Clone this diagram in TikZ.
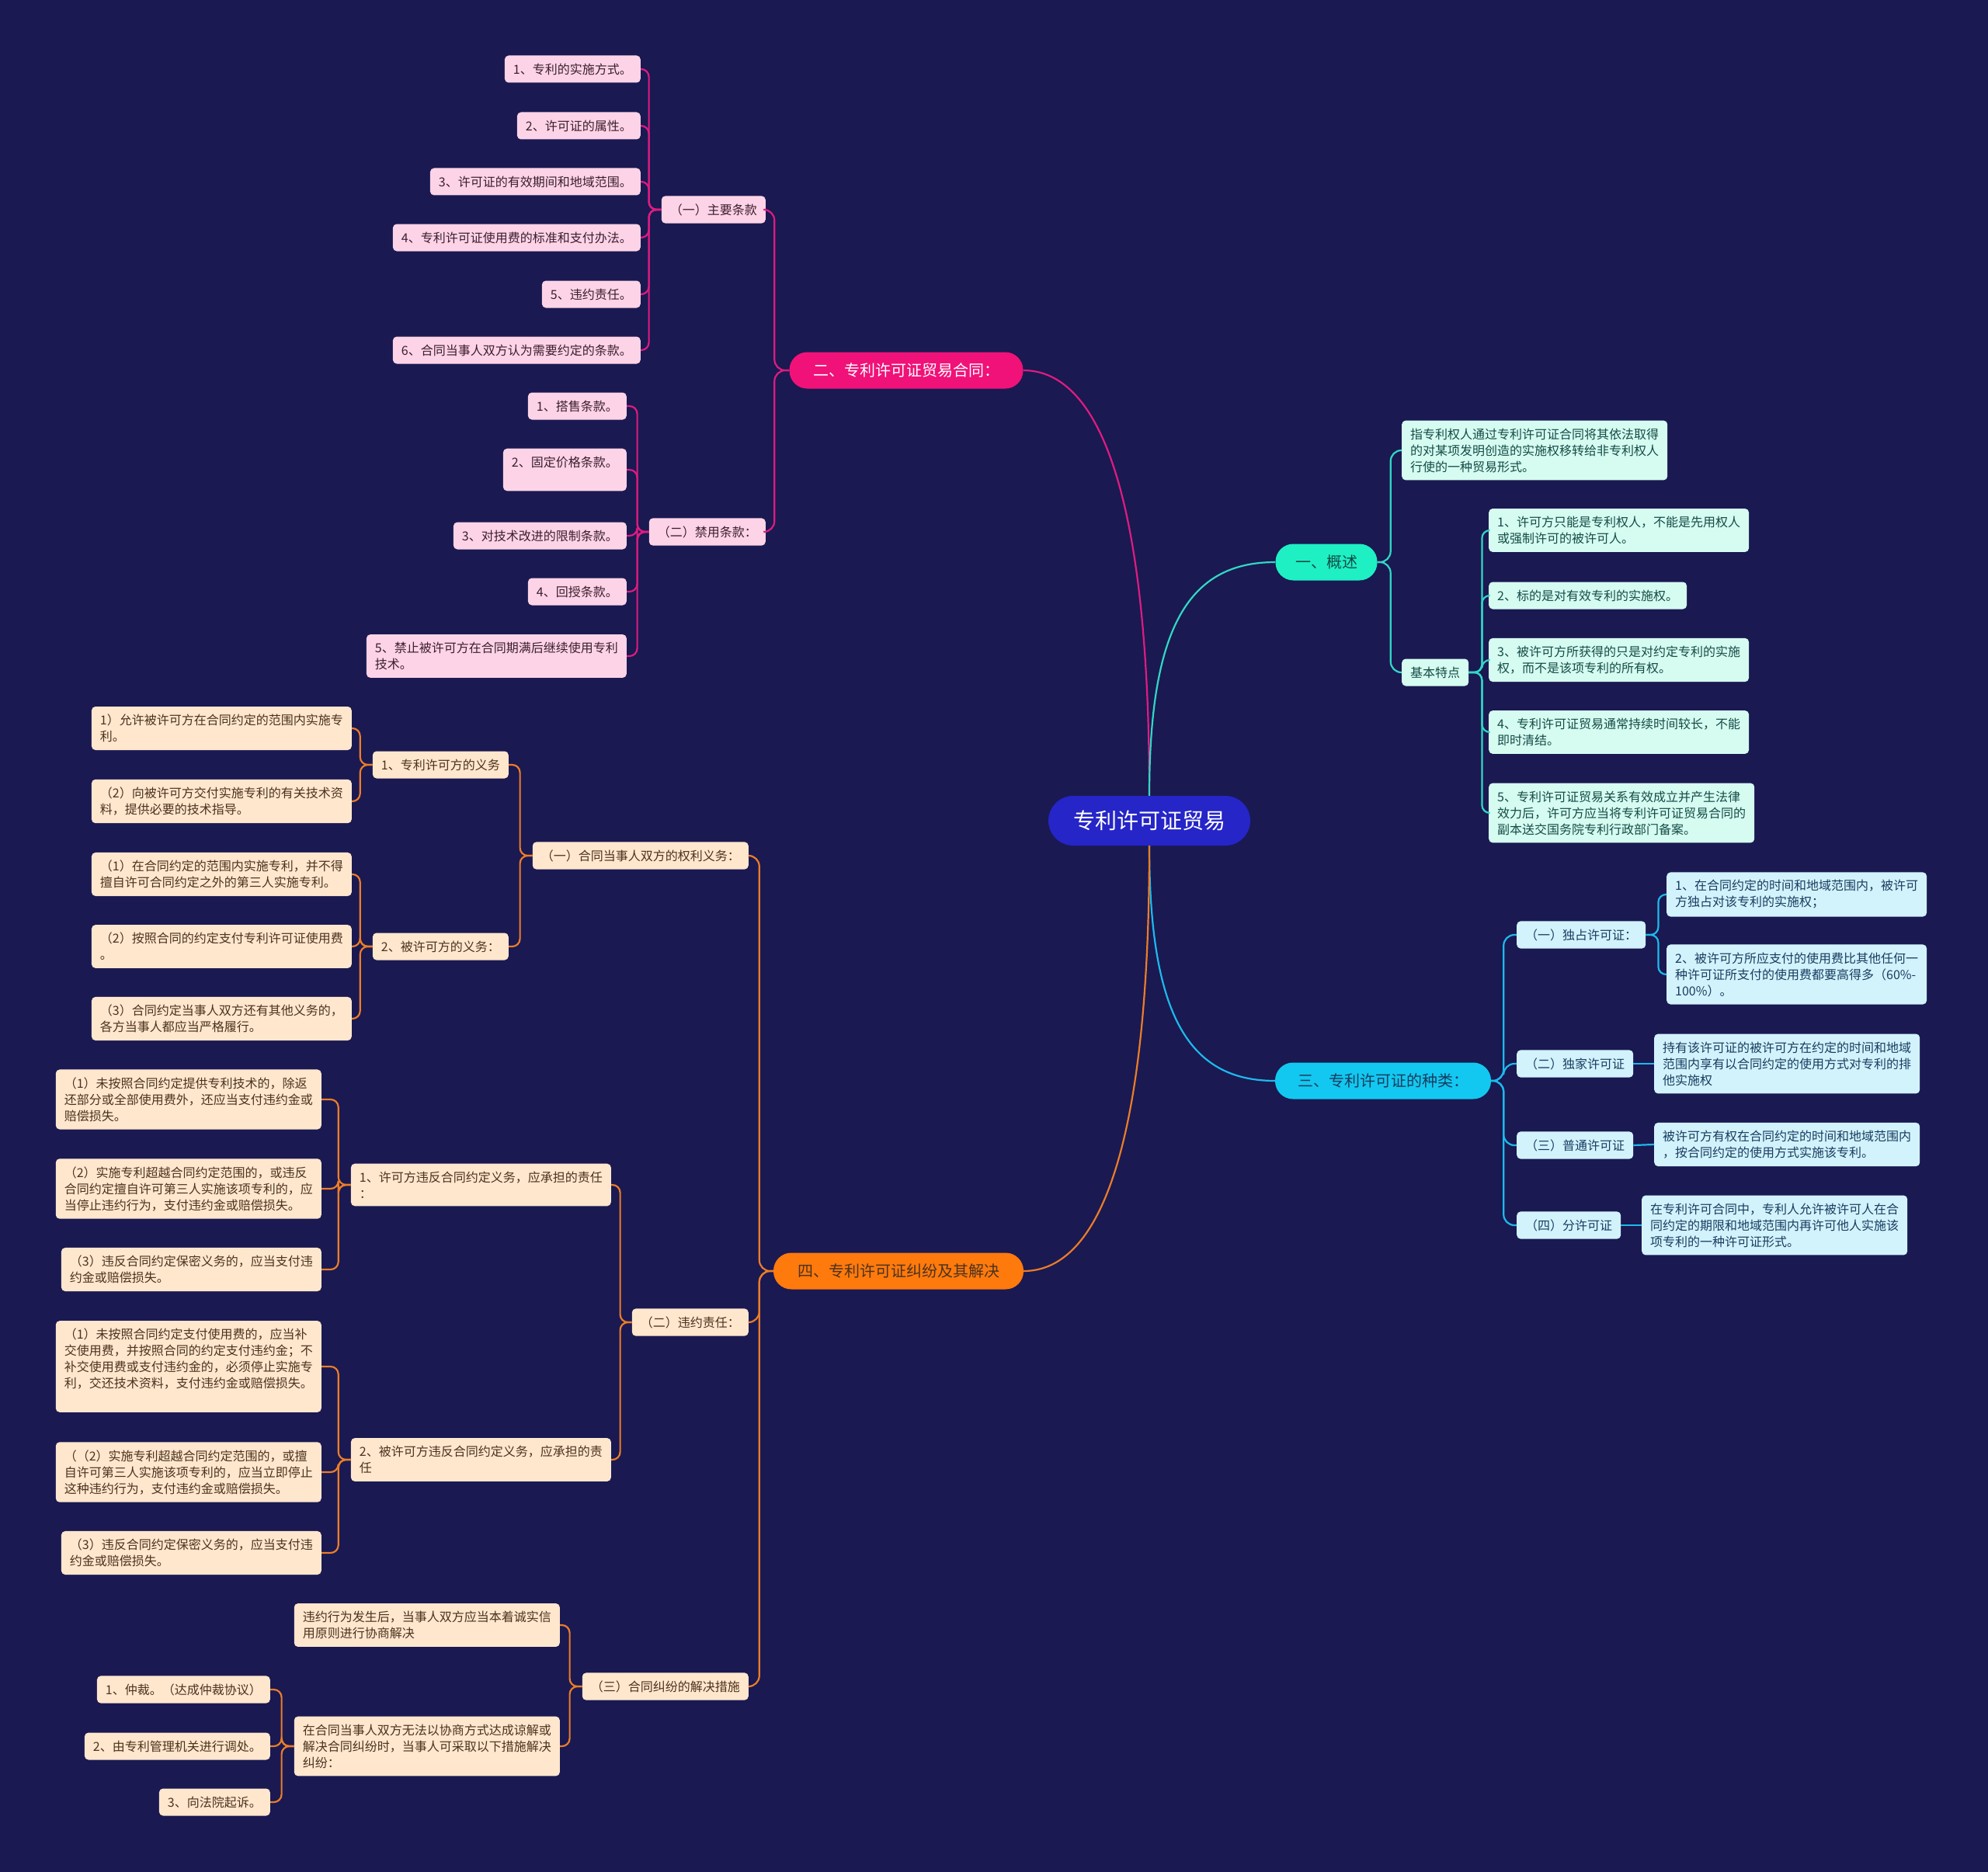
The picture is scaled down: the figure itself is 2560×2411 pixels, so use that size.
\documentclass[tikz,border=0pt]{standalone}
\usepackage{fontspec}
\usepackage{tikz}
\usetikzlibrary{
  positioning
}
\newfontfamily\cjk{Noto Sans CJK SC}
\definecolor{mapnavy}{RGB}{26,25,82}
\definecolor{maproot}{RGB}{37,37,200}
\definecolor{pinkmain}{RGB}{240,18,120}
\definecolor{pinkline}{RGB}{222,28,128}
\definecolor{pinksoft}{RGB}{253,212,231}
\definecolor{pinkink}{RGB}{60,30,45}
\definecolor{tealmain}{RGB}{30,240,196}
\definecolor{tealline}{RGB}{50,215,195}
\definecolor{tealsoft}{RGB}{214,252,241}
\definecolor{tealink}{RGB}{20,75,70}
\definecolor{cyanmain}{RGB}{18,200,240}
\definecolor{cyanline}{RGB}{30,185,235}
\definecolor{cyansoft}{RGB}{210,243,252}
\definecolor{cyanink}{RGB}{25,60,95}
\definecolor{orangemain}{RGB}{255,122,12}
\definecolor{orangeline}{RGB}{235,125,40}
\definecolor{orangesoft}{RGB}{255,231,206}
\definecolor{orangeink}{RGB}{75,50,30}
\tikzset{
  mapRoot/.style={
    rectangle,
    rounded corners=32pt,
    fill=maproot,
    text=white,
    minimum width=260pt,
    minimum height=64pt,
    font=\cjk\fontsize{28}{32}\selectfont
  },
  mapPill/.style={
    rectangle,
    rounded corners=23pt,
    minimum height=47pt,
    font=\cjk\fontsize{20}{24}\selectfont
  },
  mapLeaf/.style={
    rectangle,
    rounded corners=5pt,
    align=left,
    inner xsep=11pt,
    inner ysep=10pt,
    minimum height=35pt,
    font=\cjk\fontsize{16}{21}\selectfont
  },
  pinkLeaf/.style={mapLeaf, fill=pinksoft, text=pinkink},
  tealLeaf/.style={mapLeaf, fill=tealsoft, text=tealink},
  cyanLeaf/.style={mapLeaf, fill=cyansoft, text=cyanink},
  orangeLeaf/.style={mapLeaf, fill=orangesoft, text=orangeink},
  pinkLink/.style={draw=pinkline, line width=2.2pt, rounded corners=10pt},
  tealLink/.style={draw=tealline, line width=2.2pt, rounded corners=10pt},
  cyanLink/.style={draw=cyanline, line width=2.2pt, rounded corners=10pt},
  orangeLink/.style={draw=orangeline, line width=2.2pt, rounded corners=10pt}
}
\begin{document}
\begin{tikzpicture}[x=1pt, y=-1pt]
  \fill[mapnavy] (0,0) rectangle (2560,2411);
  \useasboundingbox (0,0) rectangle (2560,2411);

  % centre
  \node[mapRoot] (trade) at (1480,1057) {专利许可证贸易};

  \node[mapPill, fill=pinkmain, text=white, minimum width=301pt]
    (contract) at (1167,477) {二、专利许可证贸易合同：};
  \node[mapPill, fill=tealmain, text=tealink, minimum width=131pt]
    (overview) at (1708,724) {一、概述};
  \node[mapPill, fill=cyanmain, text=cyanink, minimum width=278pt]
    (kinds) at (1781,1392) {三、专利许可证的种类：};
  \node[mapPill, fill=orangemain, text=orangeink, minimum width=322pt]
    (dispute) at (1157,1637) {四、专利许可证纠纷及其解决};

  \draw[pinkline, line width=2.2pt] (trade.north)
    .. controls +(0,-380) and +(100,0) .. (contract.east);
  \draw[tealline, line width=2.2pt] (trade.north)
    .. controls +(0,-220) and +(-110,0) .. (overview.west);
  \draw[cyanline, line width=2.2pt] (trade.south)
    .. controls +(0,220) and +(-110,0) .. (kinds.west);
  \draw[orangeline, line width=2.2pt] (trade.south)
    .. controls +(0,380) and +(100,0) .. (dispute.east);

  % 二
  \node[pinkLeaf, anchor=east] (mainTerms) at (986,270) {（一）主要条款};
  \node[pinkLeaf, anchor=east] (banTerms) at (986,685) {（二）禁用条款：};
  \node[pinkLeaf, anchor=east] (mt1) at (825,89) {1、专利的实施方式。};
  \node[pinkLeaf, anchor=east] (mt2) at (825,162) {2、许可证的属性。};
  \node[pinkLeaf, anchor=east] (mt3) at (825,234) {3、许可证的有效期间和地域范围。};
  \node[pinkLeaf, anchor=east] (mt4) at (825,306) {4、专利许可证使用费的标准和支付办法。};
  \node[pinkLeaf, anchor=east] (mt5) at (825,379) {5、违约责任。};
  \node[pinkLeaf, anchor=east] (mt6) at (825,451) {6、合同当事人双方认为需要约定的条款。};
  \node[pinkLeaf, anchor=east] (bt1) at (807,523) {1、搭售条款。};
  \node[pinkLeaf, anchor=east] (bt2) at (807,605) {2、固定价格条款。\\~};
  \node[pinkLeaf, anchor=east] (bt3) at (807,690) {3、对技术改进的限制条款。};
  \node[pinkLeaf, anchor=east] (bt4) at (807,762) {4、回授条款。};
  \node[pinkLeaf, anchor=east] (bt5) at (807,845)
    {5、禁止被许可方在合同期满后继续使用专利\\技术。};

  \foreach \kid in {mainTerms,banTerms}
    \draw[pinkLink, rounded corners=14pt] (contract.west) -- ++(-19,0) |- (\kid.east);
  \foreach \leaf in {mt1,mt2,mt3,mt4,mt5,mt6}
    \draw[pinkLink] (mainTerms.west) -- ++(-16,0) |- (\leaf.east);
  \foreach \leaf in {bt1,bt2,bt3,bt4,bt5}
    \draw[pinkLink] (banTerms.west) -- ++(-15,0) |- (\leaf.east);

  % 一
  \node[tealLeaf, anchor=west] (defText) at (1805,580)
    {指专利权人通过专利许可证合同将其依法取得\\的对某项发明创造的实施权移转给非专利权人\\行使的一种贸易形式。};
  \node[tealLeaf, anchor=west] (features) at (1805,866) {基本特点};
  \node[tealLeaf, anchor=west] (ft1) at (1917,683)
    {1、许可方只能是专利权人，不能是先用权人\\或强制许可的被许可人。};
  \node[tealLeaf, anchor=west] (ft2) at (1917,767) {2、标的是对有效专利的实施权。};
  \node[tealLeaf, anchor=west] (ft3) at (1917,850)
    {3、被许可方所获得的只是对约定专利的实施\\权，而不是该项专利的所有权。};
  \node[tealLeaf, anchor=west] (ft4) at (1917,943)
    {4、专利许可证贸易通常持续时间较长，不能\\即时清结。};
  \node[tealLeaf, anchor=west] (ft5) at (1917,1047)
    {5、专利许可证贸易关系有效成立并产生法律\\效力后，许可方应当将专利许可证贸易合同的\\副本送交国务院专利行政部门备案。};

  \foreach \kid in {defText,features}
    \draw[tealLink, rounded corners=14pt] (overview.east) -- ++(17,0) |- (\kid.west);
  \foreach \leaf in {ft1,ft2,ft3,ft4,ft5}
    \draw[tealLink] (features.east) -- ++(17,0) |- (\leaf.west);

  % 三
  \node[cyanLeaf, anchor=west] (sole) at (1953,1204) {（一）独占许可证：};
  \node[cyanLeaf, anchor=west] (excl) at (1953,1370) {（二）独家许可证};
  \node[cyanLeaf, anchor=west] (common) at (1953,1475) {（三）普通许可证};
  \node[cyanLeaf, anchor=west] (subLic) at (1953,1578) {（四）分许可证};
  \node[cyanLeaf, anchor=west] (sole1) at (2146,1152)
    {1、在合同约定的时间和地域范围内，被许可\\方独占对该专利的实施权；};
  \node[cyanLeaf, anchor=west] (sole2) at (2146,1255)
    {2、被许可方所应支付的使用费比其他任何一\\种许可证所支付的使用费都要高得多（60\%-\\100\%）。};
  \node[cyanLeaf, anchor=west] (exclTxt) at (2130,1370)
    {持有该许可证的被许可方在约定的时间和地域\\范围内享有以合同约定的使用方式对专利的排\\他实施权};
  \node[cyanLeaf, anchor=west] (commonTxt) at (2130,1474)
    {被许可方有权在合同约定的时间和地域范围内\\，按合同约定的使用方式实施该专利。};
  \node[cyanLeaf, anchor=west] (subTxt) at (2114,1578)
    {在专利许可合同中，专利人允许被许可人在合\\同约定的期限和地域范围内再许可他人实施该\\项专利的一种许可证形式。};

  \foreach \kid in {sole,excl,common,subLic}
    \draw[cyanLink, rounded corners=14pt] (kinds.east) -- ++(16,0) |- (\kid.west);
  \foreach \leaf in {sole1,sole2}
    \draw[cyanLink] (sole.east) -- ++(16,0) |- (\leaf.west);
  \draw[cyanLink] (excl.east) -- (exclTxt.west);
  \draw[cyanLink] (common.east) -- (commonTxt.west);
  \draw[cyanLink] (subLic.east) -- (subTxt.west);

  % 四
  \node[orangeLeaf, anchor=east] (duty) at (964,1102) {（一）合同当事人双方的权利义务：};
  \node[orangeLeaf, anchor=east] (breach) at (964,1703) {（二）违约责任：};
  \node[orangeLeaf, anchor=east] (settle) at (964,2172) {（三）合同纠纷的解决措施};

  \node[orangeLeaf, anchor=east] (dutyA) at (655,985) {1、专利许可方的义务};
  \node[orangeLeaf, anchor=east] (dutyB) at (655,1219) {2、被许可方的义务：};
  \node[orangeLeaf, anchor=east] (dA1) at (453,938)
    {1）允许被许可方在合同约定的范围内实施专\\利。};
  \node[orangeLeaf, anchor=east] (dA2) at (453,1032)
    {（2）向被许可方交付实施专利的有关技术资\\料，提供必要的技术指导。};
  \node[orangeLeaf, anchor=east] (dB1) at (453,1126)
    {（1）在合同约定的范围内实施专利，并不得\\擅自许可合同约定之外的第三人实施专利。};
  \node[orangeLeaf, anchor=east] (dB2) at (453,1219)
    {（2）按照合同的约定支付专利许可证使用费\\。};
  \node[orangeLeaf, anchor=east] (dB3) at (453,1312)
    {（3）合同约定当事人双方还有其他义务的，\\各方当事人都应当严格履行。};

  \node[orangeLeaf, anchor=east] (brA) at (787,1526)
    {1、许可方违反合同约定义务，应承担的责任\\：};
  \node[orangeLeaf, anchor=east] (brB) at (787,1880)
    {2、被许可方违反合同约定义务，应承担的责\\任};
  \node[orangeLeaf, anchor=east] (bA1) at (414,1416)
    {（1）未按照合同约定提供专利技术的，除返\\还部分或全部使用费外，还应当支付违约金或\\赔偿损失。};
  \node[orangeLeaf, anchor=east] (bA2) at (414,1531)
    {（2）实施专利超越合同约定范围的，或违反\\合同约定擅自许可第三人实施该项专利的，应\\当停止违约行为，支付违约金或赔偿损失。};
  \node[orangeLeaf, anchor=east] (bA3) at (414,1635)
    {（3）违反合同约定保密义务的，应当支付违\\约金或赔偿损失。};
  \node[orangeLeaf, anchor=east] (bB1) at (414,1760)
    {（1）未按照合同约定支付使用费的，应当补\\交使用费，并按照合同的约定支付违约金；不\\补交使用费或支付违约金的，必须停止实施专\\利，交还技术资料，支付违约金或赔偿损失。\\~};
  \node[orangeLeaf, anchor=east] (bB2) at (414,1896)
    {（（2）实施专利超越合同约定范围的，或擅\\自许可第三人实施该项专利的，应当立即停止\\这种违约行为，支付违约金或赔偿损失。};
  \node[orangeLeaf, anchor=east] (bB3) at (414,2000)
    {（3）违反合同约定保密义务的，应当支付违\\约金或赔偿损失。};

  \node[orangeLeaf, anchor=east] (stA) at (721,2093)
    {违约行为发生后，当事人双方应当本着诚实信\\用原则进行协商解决};
  \node[orangeLeaf, anchor=east] (stB) at (721,2249)
    {在合同当事人双方无法以协商方式达成谅解或\\解决合同纠纷时，当事人可采取以下措施解决\\纠纷：};
  \node[orangeLeaf, anchor=east] (sB1) at (348,2176) {1、仲裁。（达成仲裁协议）};
  \node[orangeLeaf, anchor=east] (sB2) at (348,2249) {2、由专利管理机关进行调处。};
  \node[orangeLeaf, anchor=east] (sB3) at (348,2321) {3、向法院起诉。};

  \foreach \kid in {duty,breach,settle}
    \draw[orangeLink, rounded corners=14pt] (dispute.west) -- ++(-18,0) |- (\kid.east);
  \foreach \kid in {dutyA,dutyB}
    \draw[orangeLink] (duty.west) -- ++(-16,0) |- (\kid.east);
  \foreach \leaf in {dA1,dA2}
    \draw[orangeLink] (dutyA.west) -- ++(-16,0) |- (\leaf.east);
  \foreach \leaf in {dB1,dB2,dB3}
    \draw[orangeLink] (dutyB.west) -- ++(-16,0) |- (\leaf.east);
  \foreach \kid in {brA,brB}
    \draw[orangeLink] (breach.west) -- ++(-15,0) |- (\kid.east);
  \foreach \leaf in {bA1,bA2,bA3}
    \draw[orangeLink] (brA.west) -- ++(-16,0) |- (\leaf.east);
  \foreach \leaf in {bB1,bB2,bB3}
    \draw[orangeLink] (brB.west) -- ++(-16,0) |- (\leaf.east);
  \foreach \kid in {stA,stB}
    \draw[orangeLink] (settle.west) -- ++(-16,0) |- (\kid.east);
  \foreach \leaf in {sB1,sB2,sB3}
    \draw[orangeLink] (stB.west) -- ++(-16,0) |- (\leaf.east);
\end{tikzpicture}
\end{document}
